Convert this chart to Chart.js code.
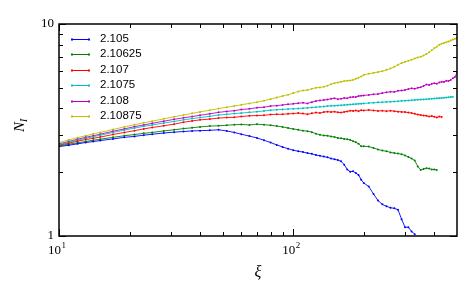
<!DOCTYPE html>
<html>
<head>
<meta charset="utf-8">
<script src="https://cdn.jsdelivr.net/npm/chart.js@4/dist/chart.umd.min.js"></script>
<style>
  html, body { margin: 0; padding: 0; background: #fff; }
  #wrap { width: 474px; height: 296px; }
</style>
</head>
<body>
<div id="wrap"><canvas id="chart" width="474" height="296"></canvas></div>
<script>
// ===================== Data =====================
// xi: 10..95 (uneven), 100..195 step 5, 200..500 step 10
const xi = [10, 11, 12, 13, 14, 15, 17, 19, 21, 23, 25, 28, 31, 34, 37, 40, 44, 48, 52, 56, 60, 65, 70, 75, 80, 85, 90, 95,
  100, 105, 110, 115, 120, 125, 130, 135, 140, 145, 150, 155, 160, 165, 170, 175, 180, 185, 190, 195,
  200, 210, 220, 230, 240, 250, 260, 270, 280, 290, 300, 310, 320, 330, 340, 350, 360, 370, 380, 390,
  400, 410, 420, 430, 440, 450, 460, 470, 480, 490, 500];

const labels = ['2.105', '2.10625', '2.107', '2.1075', '2.108', '2.10875'];

const n2105 = [2.64, 2.68, 2.72, 2.76, 2.79, 2.82, 2.87, 2.92, 2.95, 2.99, 3.02, 3.06, 3.09, 3.11, 3.13, 3.14, 3.15, 3.17, 3.13, 3.08, 3.02, 2.96, 2.90, 2.83, 2.76, 2.69, 2.63, 2.58,
  2.54, 2.51, 2.49, 2.46, 2.44, 2.41, 2.39, 2.37, 2.35, 2.32, 2.30, 2.28, 2.25, 2.17, 2.06, 2.01, 2.02, 1.98, 1.94, 1.84,
  1.78, 1.71, 1.58, 1.47, 1.41, 1.38, 1.36, 1.35, 1.33, 1.20, 1.10, 1.10, 1.05, 1.02, null, null, null, null, null, null,
  null, null, null, null, null, null, null, null, null, null, null];
const n210625 = [2.66, 2.71, 2.75, 2.79, 2.83, 2.86, 2.92, 2.97, 3.01, 3.05, 3.08, 3.13, 3.17, 3.21, 3.24, 3.27, 3.30, 3.31, 3.33, 3.35, 3.36, 3.34, 3.37, 3.35, 3.33, 3.30, 3.27, 3.23,
  3.20, 3.17, 3.14, 3.12, 3.09, 3.04, 3.00, 2.98, 2.97, 2.95, 2.93, 2.90, 2.89, 2.87, 2.86, 2.84, 2.80, 2.77, 2.72, 2.65,
  2.65, 2.64, 2.60, 2.56, 2.53, 2.51, 2.48, 2.46, 2.45, 2.43, 2.40, 2.36, 2.32, 2.27, 2.13, 2.05, 2.07, 2.09, 2.08, 2.06,
  2.06, 2.05, null, null, null, null, null, null, null, null, null];
const n2107 = [2.68, 2.74, 2.80, 2.85, 2.89, 2.93, 3.01, 3.08, 3.14, 3.20, 3.25, 3.31, 3.37, 3.44, 3.49, 3.53, 3.56, 3.60, 3.62, 3.63, 3.66, 3.69, 3.70, 3.71, 3.74, 3.75, 3.75, 3.77,
  3.78, 3.80, 3.78, 3.75, 3.79, 3.82, 3.80, 3.84, 3.86, 3.84, 3.86, 3.83, 3.82, 3.85, 3.87, 3.90, 3.89, 3.91, 3.88, 3.92,
  3.91, 3.93, 3.91, 3.89, 3.90, 3.88, 3.90, 3.88, 3.86, 3.85, 3.84, 3.82, 3.80, 3.77, 3.74, 3.72, 3.70, 3.69, 3.66, 3.68,
  3.65, 3.62, 3.66, 3.64, null, null, null, null, null, null, null];
const n21075 = [2.70, 2.77, 2.83, 2.89, 2.94, 2.99, 3.08, 3.16, 3.23, 3.29, 3.34, 3.41, 3.47, 3.53, 3.58, 3.62, 3.67, 3.72, 3.75, 3.78, 3.80, 3.83, 3.86, 3.89, 3.92, 3.94, 3.95, 3.97,
  3.98, 3.99, 4.01, 4.02, 4.04, 4.05, 4.07, 4.08, 4.10, 4.11, 4.12, 4.13, 4.14, 4.15, 4.16, 4.17, 4.18, 4.19, 4.20, 4.21,
  4.22, 4.24, 4.25, 4.27, 4.28, 4.29, 4.30, 4.31, 4.32, 4.34, 4.35, 4.36, 4.37, 4.38, 4.39, 4.40, 4.41, 4.42, 4.43, 4.44,
  4.45, 4.46, 4.47, 4.48, 4.49, 4.50, 4.51, 4.52, 4.53, null, null];
const n2108 = [2.72, 2.79, 2.86, 2.92, 2.97, 3.02, 3.12, 3.20, 3.28, 3.34, 3.40, 3.48, 3.55, 3.61, 3.66, 3.71, 3.77, 3.83, 3.87, 3.90, 3.95, 3.98, 4.03, 4.05, 4.10, 4.12, 4.15, 4.18,
  4.20, 4.23, 4.25, 4.22, 4.28, 4.33, 4.36, 4.38, 4.40, 4.44, 4.46, 4.42, 4.44, 4.48, 4.46, 4.51, 4.53, 4.52, 4.57, 4.59,
  4.60, 4.63, 4.66, 4.67, 4.72, 4.76, 4.79, 4.78, 4.84, 4.86, 4.88, 4.93, 4.97, 4.95, 5.00, 5.03, 5.10, 5.18, 5.16, 5.22,
  5.25, 5.23, 5.30, 5.34, 5.33, 5.40, 5.38, 5.45, 5.55, 5.62, 5.88];
const n210875 = [2.76, 2.84, 2.91, 2.97, 3.03, 3.08, 3.18, 3.27, 3.35, 3.42, 3.48, 3.57, 3.65, 3.72, 3.79, 3.85, 3.92, 3.99, 4.05, 4.10, 4.16, 4.22, 4.28, 4.35, 4.42, 4.50, 4.57, 4.64,
  4.72, 4.80, 4.86, 4.88, 4.95, 5.00, 5.02, 5.06, 5.12, 5.20, 5.26, 5.30, 5.34, 5.38, 5.40, 5.42, 5.44, 5.52, 5.58, 5.66,
  5.74, 5.83, 5.88, 5.93, 5.99, 6.08, 6.16, 6.28, 6.42, 6.55, 6.63, 6.70, 6.78, 6.88, 6.95, 7.00, 7.10, 7.22, 7.35, 7.52,
  7.68, 7.82, 7.98, 8.08, 8.14, 8.20, 8.26, 8.35, 8.45, 8.52, 8.62];

const xMajor = [10, 100];
const xMinor = [20, 30, 40, 50, 60, 70, 80, 90, 200, 300, 400];
const yMajor = [1, 10];
const yMinor = [2, 3, 4, 5, 6, 7, 8, 9];

const series = [n2105, n210625, n2107, n21075, n2108, n210875];
const colors = ['#0000ff', '#008000', '#ff0000', '#00bfbf', '#bf00bf', '#bfbf00'];

// ===================== Frame, ticks, labels, legend =====================
const axesPlugin = {
  id: 'axesPlugin',
  afterDraw(chart) {
    const ctx = chart.ctx;
    const a = chart.chartArea;
    const xs = chart.scales.x, ys = chart.scales.y;
    ctx.save();
    ctx.strokeStyle = '#000';

    // ticks point inward on all four sides
    ctx.lineWidth = 1;
    const tick = (list, len, isX) => {
      list.forEach(v => {
        ctx.beginPath();
        if (isX) {
          const p = Math.round(xs.getPixelForValue(v)) + 0.5;
          ctx.moveTo(p, a.bottom); ctx.lineTo(p, a.bottom - len);
          ctx.moveTo(p, a.top); ctx.lineTo(p, a.top + len);
        } else {
          const p = Math.round(ys.getPixelForValue(v)) + 0.5;
          ctx.moveTo(a.left, p); ctx.lineTo(a.left + len, p);
          ctx.moveTo(a.right, p); ctx.lineTo(a.right - len, p);
        }
        ctx.stroke();
      });
    };
    tick(xMajor, 7, true); tick(xMinor, 4, true);
    tick(yMajor, 7, false); tick(yMinor, 4, false);

    ctx.lineWidth = 1.5;
    ctx.strokeRect(a.left, a.top, a.right - a.left, a.bottom - a.top);

    // tick labels
    ctx.fillStyle = '#000';
    ctx.font = '13px "Liberation Serif", serif';
    ctx.textBaseline = 'middle';
    ctx.textAlign = 'right';
    yMajor.forEach(v => ctx.fillText(String(v), a.left - 5, ys.getPixelForValue(v)));
    xMajor.forEach((v, i) => {
      const px = xs.getPixelForValue(v);
      ctx.font = '13px "Liberation Serif", serif';
      ctx.textAlign = 'right';
      ctx.fillText('10', px + 2, a.bottom + 15);
      ctx.font = '9px "Liberation Serif", serif';
      ctx.textAlign = 'left';
      ctx.fillText(String(i + 1), px + 2.5, a.bottom + 10);
    });

    // axis titles
    ctx.textAlign = 'center';
    ctx.font = 'italic 16px "Liberation Serif", serif';
    ctx.fillText('\u03BE', (a.left + a.right) / 2, a.bottom + 37);
    ctx.save();
    ctx.translate(20, 124);
    ctx.rotate(-Math.PI / 2);
    ctx.font = 'italic 15px "Liberation Serif", serif';
    ctx.textAlign = 'right';
    ctx.fillText('N', 2, 0);
    ctx.font = 'italic 10px "Liberation Serif", serif';
    ctx.textAlign = 'left';
    ctx.fillText('I', 2, 4);
    ctx.restore();

    // legend
    ctx.font = '11.5px "Liberation Sans", sans-serif';
    ctx.textAlign = 'left';
    labels.forEach((lab, i) => {
      const y = 38.5 + i * 15.5;
      ctx.strokeStyle = colors[i];
      ctx.lineWidth = 1;
      ctx.beginPath();
      ctx.moveTo(72, Math.round(y) + 0.5); ctx.lineTo(89, Math.round(y) + 0.5);
      ctx.stroke();
      ctx.fillStyle = colors[i];
      [72, 89].forEach(px => ctx.fillRect(px - 1, Math.round(y) - 0.5, 2, 2));
      ctx.fillStyle = '#000';
      ctx.fillText(lab, 100, y);
    });
    ctx.restore();
  }
};

// ===================== Chart =====================
function setupChart() {
  new Chart(document.getElementById('chart').getContext('2d'), {
    type: 'line',
    data: {
      datasets: series.map((vals, i) => ({
        label: labels[i],
        data: xi.map((x, k) => ({ x: x, y: vals[k] })),
        borderColor: colors[i],
        backgroundColor: colors[i],
        borderWidth: 0.9,
        pointRadius: 1,
        pointBorderWidth: 0,
        pointHoverRadius: 0,
        fill: false,
        tension: 0
      }))
    },
    options: {
      responsive: false,
      animation: false,
      layout: { padding: { left: 59, right: 17, top: 24, bottom: 60 } },
      plugins: { legend: { display: false }, tooltip: { enabled: false } },
      scales: {
        x: { type: 'logarithmic', min: 10, max: 500, display: false },
        y: { type: 'logarithmic', min: 1, max: 10, display: false }
      }
    },
    plugins: [axesPlugin]
  });
}
document.addEventListener('DOMContentLoaded', setupChart);
</script>
</body>
</html>
